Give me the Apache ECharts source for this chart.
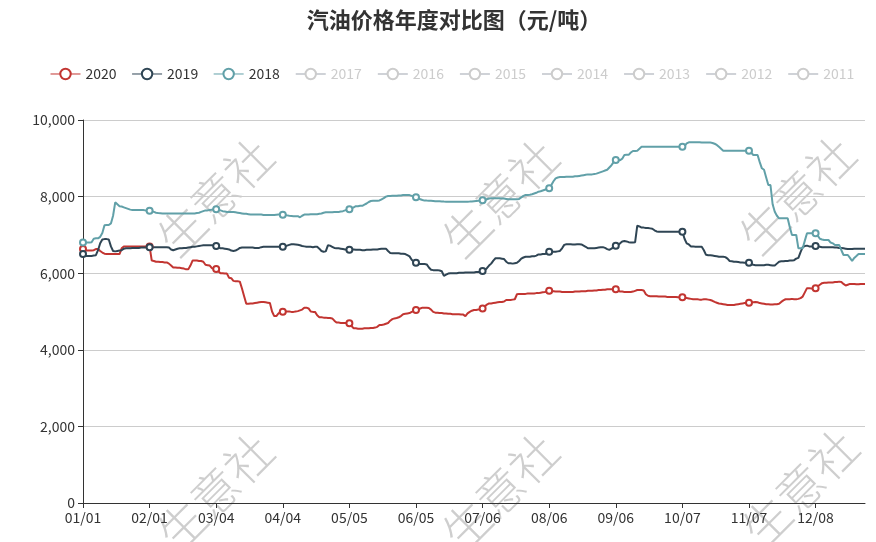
<!DOCTYPE html>
<html>
<head>
<meta charset="utf-8">
<script src="https://cdn.jsdelivr.net/npm/echarts@6/dist/echarts.min.js"></script>
<style>html,body{margin:0;padding:0;background:#fff}#main{width:876px;height:542px}</style>
</head>
<body>
<div id="main"></div>
<script>
// Categories: every day of a (non-leap) year, MM/DD
const monthLengths = [31, 28, 31, 30, 31, 30, 31, 31, 30, 31, 30, 31];
const dates = [];
monthLengths.forEach(function (n, m) {
  for (let d = 1; d <= n; d++) dates.push(String(m + 1).padStart(2, '0') + '/' + String(d).padStart(2, '0'));
});

const seriesNames = ['2020', '2019', '2018', '2017', '2016', '2015', '2014', '2013', '2012', '2011'];

const values2020 = [
6630,6600,6590,6590,6590,6600,6630,6630,6580,6540,
6510,6500,6500,6500,6500,6500,6500,6500,6650,6700,
6700,6700,6700,6700,6700,6700,6700,6700,6700,6700,
6700,6700,6330,6320,6300,6300,6290,6290,6280,6280,
6250,6200,6150,6150,6140,6140,6130,6120,6100,6100,
6200,6330,6330,6330,6320,6320,6300,6220,6210,6200,
6130,6120,6110,6050,6000,6000,5990,5990,5880,5870,
5800,5790,5790,5780,5600,5400,5200,5200,5210,5210,
5220,5230,5240,5250,5250,5240,5230,5220,5000,4880,
4880,4950,5000,4995,5000,5000,5000,4990,4990,5000,
5010,5030,5050,5100,5100,5080,5000,4990,4990,4900,
4850,4850,4840,4840,4830,4830,4820,4760,4710,4710,
4700,4700,4700,4700,4690,4620,4560,4560,4550,4550,
4550,4560,4560,4560,4570,4570,4580,4600,4650,4650,
4660,4680,4700,4760,4800,4820,4830,4850,4880,4930,
4940,4950,4960,4990,5010,5040,5060,5080,5100,5100,
5100,5090,5050,4990,4970,4970,4960,4960,4950,4950,
4940,4940,4930,4930,4930,4930,4920,4920,4880,4950,
4990,5020,5040,5040,5050,5070,5080,5130,5180,5210,
5210,5220,5230,5240,5250,5250,5260,5300,5300,5300,
5310,5320,5450,5460,5460,5460,5460,5470,5470,5470,
5470,5480,5480,5490,5500,5510,5530,5540,5540,5530,
5520,5520,5520,5510,5510,5510,5510,5510,5510,5520,
5520,5520,5530,5530,5530,5540,5540,5540,5550,5550,
5560,5560,5570,5570,5580,5580,5580,5580,5580,5550,
5520,5520,5510,5510,5510,5510,5520,5540,5560,5560,
5560,5550,5450,5410,5400,5400,5400,5400,5390,5390,
5390,5390,5380,5380,5380,5380,5380,5370,5370,5370,
5360,5350,5340,5330,5320,5320,5320,5310,5310,5320,
5320,5310,5300,5280,5250,5230,5210,5200,5190,5180,
5170,5170,5170,5170,5180,5190,5200,5210,5220,5220,
5230,5240,5240,5250,5240,5220,5210,5200,5190,5190,
5180,5180,5190,5190,5200,5250,5290,5320,5320,5320,
5330,5320,5320,5330,5350,5390,5500,5610,5610,5600,
5600,5605,5660,5700,5740,5750,5750,5760,5760,5760,
5770,5770,5780,5770,5720,5680,5700,5720,5720,5720,
5710,5710,5720,5720,5720
];

const values2019 = [
6500,6450,6450,6450,6450,6460,6470,6600,6780,6880,
6890,6890,6880,6700,6580,6570,6580,6590,6600,6640,
6650,6650,6650,6660,6660,6660,6660,6670,6670,6670,
6675,6680,6680,6680,6680,6680,6680,6680,6680,6680,
6670,6620,6600,6620,6640,6650,6650,6660,6660,6670,
6680,6690,6690,6700,6710,6720,6730,6730,6730,6730,
6730,6720,6710,6680,6650,6650,6640,6630,6620,6590,
6580,6590,6620,6660,6670,6670,6670,6670,6670,6670,
6660,6660,6660,6680,6690,6690,6690,6690,6690,6690,
6690,6690,6690,6693,6700,6720,6740,6755,6755,6750,
6740,6730,6710,6700,6690,6690,6690,6680,6690,6690,
6640,6580,6560,6570,6728,6720,6690,6660,6650,6650,
6640,6630,6620,6610,6615,6620,6620,6610,6610,6610,
6600,6600,6610,6610,6610,6620,6620,6620,6630,6640,
6640,6640,6580,6530,6520,6520,6520,6520,6510,6510,
6500,6470,6440,6350,6300,6275,6250,6240,6240,6240,
6230,6150,6090,6080,6080,6080,6070,6050,5930,5960,
5990,6000,6000,6000,6000,6010,6010,6010,6020,6020,
6020,6020,6020,6030,6030,6040,6057,6080,6130,6200,
6250,6330,6390,6390,6390,6380,6370,6300,6260,6260,
6250,6260,6270,6320,6380,6410,6430,6430,6430,6440,
6440,6460,6490,6490,6500,6500,6530,6560,6560,6560,
6560,6570,6580,6650,6740,6755,6755,6755,6750,6750,
6755,6755,6750,6720,6690,6650,6650,6650,6650,6660,
6670,6680,6680,6660,6630,6610,6640,6690,6715,6740,
6780,6830,6840,6830,6810,6800,6800,6810,7240,7220,
7190,7190,7180,7180,7170,7160,7120,7090,7080,7080,
7080,7080,7085,7085,7085,7085,7085,7085,7085,7084,
6900,6780,6750,6700,6700,6690,6690,6690,6690,6600,
6480,6470,6470,6460,6450,6440,6430,6430,6430,6420,
6380,6320,6310,6300,6300,6290,6280,6280,6270,6270,
6275,6240,6220,6210,6210,6210,6210,6210,6220,6220,
6210,6200,6200,6250,6300,6310,6310,6320,6320,6330,
6330,6340,6380,6400,6550,6680,6710,6720,6700,6700,
6700,6710,6700,6690,6680,6680,6680,6680,6680,6680,
6670,6670,6660,6660,6650,6640,6630,6630,6630,6640,
6640,6640,6640,6640,6640
];

const values2018 = [
6800,6800,6800,6800,6810,6900,6910,6910,6950,7050,
7250,7260,7260,7300,7500,7850,7800,7750,7740,7720,
7700,7680,7660,7650,7650,7650,7650,7650,7650,7640,
7635,7632,7620,7600,7580,7570,7565,7560,7560,7560,
7560,7560,7560,7560,7560,7560,7560,7560,7560,7560,
7560,7560,7560,7570,7580,7600,7620,7640,7640,7650,
7660,7670,7668,7660,7640,7620,7610,7600,7600,7600,
7600,7590,7580,7570,7560,7550,7550,7540,7530,7530,
7530,7530,7530,7530,7520,7520,7520,7520,7520,7520,
7525,7530,7530,7528,7520,7510,7500,7495,7490,7490,
7490,7460,7500,7530,7530,7530,7540,7540,7540,7540,
7550,7560,7580,7590,7590,7590,7590,7600,7600,7600,
7610,7620,7640,7660,7668,7690,7720,7750,7750,7760,
7760,7790,7820,7860,7885,7890,7890,7890,7900,7930,
7960,8000,8016,8016,8020,8020,8020,8030,8030,8040,
8040,8040,8040,8020,8000,7981,7950,7930,7910,7895,
7895,7890,7890,7885,7880,7880,7880,7875,7870,7868,
7868,7868,7868,7868,7868,7865,7865,7865,7865,7868,
7870,7875,7880,7885,7890,7895,7903,7910,7930,7950,
7955,7955,7955,7955,7955,7950,7950,7940,7930,7930,
7929,7929,7929,7940,7980,8020,8042,8042,8050,8060,
8080,8100,8128,8140,8160,8180,8200,8216,8300,8400,
8477,8500,8510,8510,8510,8520,8520,8520,8520,8530,
8530,8540,8550,8560,8570,8580,8580,8580,8590,8600,
8620,8640,8660,8680,8700,8760,8820,8900,8956,8960,
8950,8990,9086,9090,9090,9150,9191,9191,9200,9250,
9300,9300,9300,9300,9300,9300,9300,9300,9300,9300,
9300,9300,9300,9300,9300,9300,9300,9300,9300,9303,
9320,9390,9418,9418,9418,9418,9418,9418,9410,9410,
9410,9410,9410,9400,9380,9350,9300,9250,9200,9199,
9199,9199,9199,9199,9199,9199,9199,9199,9199,9199,
9199,9150,9086,9086,9086,8900,8739,8700,8500,8303,
8300,7800,7606,7500,7433,7433,7433,7433,7433,7200,
6997,6997,6997,6650,6650,6650,6850,7042,7042,7042,
7042,7042,6980,6900,6880,6867,6867,6867,6800,6780,
6736,6736,6736,6600,6475,6475,6475,6400,6319,6400,
6450,6501,6501,6501,6501
];

// Years that are switched off in the legend (no marks drawn)
const values2017 = [];
const values2016 = [];
const values2015 = [];
const values2014 = [];
const values2013 = [];
const values2012 = [];
const values2011 = [];

const yTicks = [0, 2000, 4000, 6000, 8000, 10000];
const watermarkText = '生意社';

const allValues = [values2020, values2019, values2018, values2017, values2016, values2015, values2014, values2013, values2012, values2011];
const palette = ['#c23531', '#2f4554', '#61a0a8', '#d48265', '#91c7ae', '#749f83', '#ca8622', '#bda29a', '#6e7074', '#546570'];
const FONT = '"Microsoft YaHei", "Noto Sans CJK SC", sans-serif';

const selected = {};
seriesNames.forEach(function (n, i) { selected[n] = i < 3; });

const watermarkPos = [[215, 197], [500, 198], [797, 195], [215, 492], [500, 492], [800, 488]];

const chart = echarts.init(document.getElementById('main'), null, { renderer: 'canvas' });
chart.setOption({
  animation: false,
  color: palette,
  textStyle: { fontFamily: FONT },
  title: {
    text: '汽油价格年度对比图（元/吨）',
    left: 449,
    top: 4,
    textAlign: 'center',
    textStyle: { fontSize: 22, fontWeight: 'bold', color: '#333', fontFamily: FONT }
  },
  legend: {
    data: seriesNames,
    selected: selected,
    left: 45,
    top: 62,
    itemWidth: 30,
    itemHeight: 13,
    itemGap: 15,
    inactiveColor: '#ccc',
    itemStyle: { borderWidth: 1 },
    lineStyle: { width: 1 },
    textStyle: { fontSize: 14, color: '#333', fontFamily: FONT }
  },
  grid: { left: 83, right: 11, top: 120, bottom: 39, containLabel: false },
  xAxis: {
    type: 'category',
    data: dates,
    boundaryGap: false,
    axisLine: { lineStyle: { color: '#333', width: 1 } },
    axisTick: { show: true, interval: 30, lineStyle: { color: '#333' } },
    axisLabel: { interval: 30, fontSize: 14, color: '#333', margin: 8, fontFamily: FONT }
  },
  yAxis: {
    type: 'value',
    min: yTicks[0],
    max: yTicks[yTicks.length - 1],
    interval: yTicks[1] - yTicks[0],
    axisLine: { show: true, lineStyle: { color: '#333', width: 1 } },
    axisTick: { show: true, lineStyle: { color: '#333' } },
    axisLabel: { fontSize: 14, color: '#333', margin: 8, fontFamily: FONT },
    splitLine: { lineStyle: { color: '#ccc' } }
  },
  graphic: watermarkPos.map(function (p) {
    return {
      type: 'text',
      x: p[0], y: p[1],
      rotation: Math.PI / 4,
      z: 0,
      silent: true,
      style: {
        text: watermarkText,
        fill: 'rgba(185,185,185,0.7)',
        font: '300 47px ' + FONT,
        textAlign: 'center',
        textVerticalAlign: 'middle'
      }
    };
  }),
  series: seriesNames.map(function (n, i) {
    return {
      name: n,
      type: 'line',
      data: allValues[i],
      symbol: 'emptyCircle',
      symbolSize: 6,
      showSymbol: true,
      showAllSymbol: 'auto',
      itemStyle: { borderWidth: 1 },
      lineStyle: { width: 2 },
      z: 3
    };
  })
});
</script>
</body>
</html>
